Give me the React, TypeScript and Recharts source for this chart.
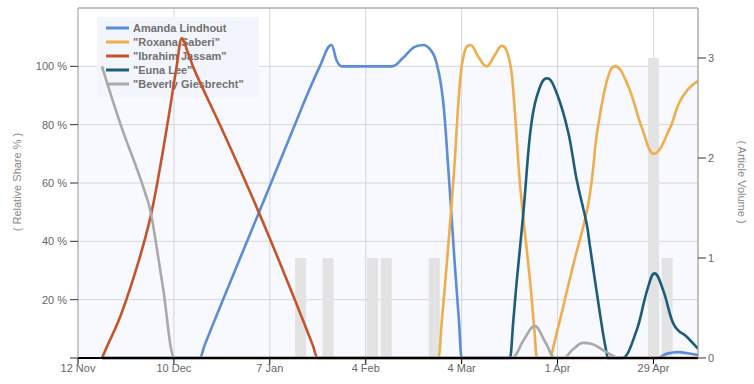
import React from 'react';
import { ComposedChart, Line, Bar, XAxis, YAxis, CartesianGrid, ReferenceArea, ReferenceLine } from 'recharts';

// x values are days counted from 12 Nov
const pts = (rows: number[][]) => rows.map(([d, v]) => ({ d, v }));

const TICK_DAYS = [0, 28, 56, 84, 112, 140, 168];
const TICK_LABELS = ['12 Nov', '10 Dec', '7 Jan', '4 Feb', '4 Mar', '1 Apr', '29 Apr'];
const SHARE_TICKS = [0, 20, 40, 60, 80, 100];
const VOLUME_TICKS = [0, 1, 2, 3];

const AMANDA = pts([
  [7, 0], [35.5, 0], [37, 4.5], [42, 19], [49, 39], [56, 59], [62.8, 78.5], [67, 90.5], [70.6, 100], [74, 107.3],
  [75.5, 102], [77, 100], [91.6, 100], [95, 103], [98, 106.5], [100.8, 107.3], [103, 105.5],
  [104.7, 101], [106.6, 88], [108.1, 65], [110, 32], [111.2, 13], [112, 0], [169, 0], [172, 1.5], [175.3, 2],
  [178, 1.6], [181, 1],
]);

const ROXANA = pts([
  [7, 0], [105.2, 0], [106.3, 14], [107.5, 30], [109.6, 61], [112, 100], [114.6, 107.3], [117, 103], [119.3, 100],
  [121.5, 103.5], [123.7, 107], [126.3, 100], [127.5, 85], [129, 60], [132, 26], [133.2, 10], [134, 0], [137.8, 0],
  [139, 5], [140.7, 13], [144.6, 32], [148.5, 50], [150, 61], [151.5, 77], [154.4, 95], [156.8, 100], [160.7, 93],
  [164.6, 79], [168, 70], [172.9, 79], [175.3, 87], [178, 92], [181, 95],
]);

const IBRAHIM = pts([
  [7, 0], [8.5, 4], [12.6, 15], [17.4, 32], [20.9, 47], [23.3, 61], [26.5, 83], [28.8, 100], [30.3, 109.6],
  [32, 105], [34, 98.7], [41.8, 79], [50, 57.5], [56, 41], [63.3, 20], [68.5, 4.5], [70, 0], [181, 0],
]);

const EUNA = pts([
  [7, 0], [126.1, 0], [127.1, 13], [128.1, 26.6], [130, 49.5], [132, 77], [133.9, 89.5], [136.9, 95.9], [139.8, 90.7],
  [143.2, 77], [145.6, 61], [148.5, 46], [149.5, 38], [152.4, 15], [153.8, 5], [154.9, 0], [158.8, 0], [163.1, 9.5],
  [166.1, 23], [168.3, 29], [170.9, 23], [173.8, 11.8], [177.8, 7.2], [181, 3.2],
]);

const BEVERLY = pts([
  [7, 100], [12.6, 79.5], [17, 65.5], [19.5, 57], [21.3, 49.5], [24.7, 25], [28.2, 0], [126.6, 0],
  [130.3, 6.5], [133.3, 11], [136.4, 5.5], [139.3, 0], [141.7, 0], [144.5, 3], [147.5, 5.2], [150, 4.8],
  [154, 2.2], [158.3, 0], [181, 0],
]);

const VOLUME = pts([[65, 1], [73, 1], [86, 1], [90, 1], [104, 1], [168, 3], [172, 1]]);

const SERIES = [
  { name: 'Amanda Lindhout', color: '#5b8dd6', data: AMANDA },
  { name: '"Roxana Saberi"', color: '#efad4c', data: ROXANA },
  { name: '"Ibrahim Jassam"', color: '#c4552b', data: IBRAHIM },
  { name: '"Euna Lee"', color: '#1d5c7b', data: EUNA },
  { name: '"Beverly Giesbrecht"', color: '#a9a9a9', data: BEVERLY },
];

// spline in the style of the original chart: control points at 1/2.5 of the gap,
// kept level where they would make a false extreme
const softSpline = (ctx: any) => {
  let p: number[][] = [];
  return {
    areaStart() {},
    areaEnd() {},
    lineStart() {
      p = [];
    },
    point(x: number, y: number) {
      p.push([+x, +y]);
    },
    lineEnd() {
      if (!p.length) return;
      const s = 1.5;
      const k = s + 1;
      const lc: number[][] = [];
      const rc: number[][] = [];
      p.forEach(([x, y], i) => {
        if (i === 0 || i === p.length - 1) {
          lc[i] = [x, y];
          rc[i] = [x, y];
          return;
        }
        const [lx, ly] = p[i - 1];
        const [nx, ny] = p[i + 1];
        const lcx = (s * x + lx) / k;
        let lcy = (s * y + ly) / k;
        const rcx = (s * x + nx) / k;
        let rcy = (s * y + ny) / k;
        let corr = 0;
        if (rcx !== lcx) corr = ((rcy - lcy) * (rcx - x)) / (rcx - lcx) + y - rcy;
        lcy += corr;
        rcy += corr;
        if (lcy > ly && lcy > y) {
          lcy = Math.max(ly, y);
          rcy = 2 * y - lcy;
        } else if (lcy < ly && lcy < y) {
          lcy = Math.min(ly, y);
          rcy = 2 * y - lcy;
        }
        if (rcy > ny && rcy > y) {
          rcy = Math.max(ny, y);
          lcy = 2 * y - rcy;
        } else if (rcy < ny && rcy < y) {
          rcy = Math.min(ny, y);
          lcy = 2 * y - rcy;
        }
        lc[i] = [lcx, lcy];
        rc[i] = [rcx, rcy];
      });
      ctx.moveTo(p[0][0], p[0][1]);
      for (let i = 1; i < p.length; i++) {
        ctx.bezierCurveTo(rc[i - 1][0], rc[i - 1][1], lc[i][0], lc[i][1], p[i][0], p[i][1]);
      }
    },
  };
};

// fixed 11px column centred on its day
const VolumeBar = (props: any) => {
  const { x, y, width, height, fill } = props;
  if (!height) return null;
  return <rect x={x + width / 2 - 5.5} y={y} width={11} height={height} fill={fill} />;
};

const LegendBox = () => (
  <g>
    <rect x={97} y={17} width={162} height={80} fill="#f3f5fc" />
    {SERIES.map((s, i) => (
      <g key={s.name}>
        <line x1={106} x2={129} y1={28 + i * 14} y2={28 + i * 14} stroke={s.color} strokeWidth={3} />
        <text x={133} y={32 + i * 14} fontSize={11} fontWeight="bold" fill="#707070">
          {s.name}
        </text>
      </g>
    ))}
  </g>
);

const tickText = { fill: '#666', fontSize: 11 };

export default function App() {
  return (
    <div
      style={{
        position: 'absolute',
        left: 0,
        top: 0,
        width: 754,
        height: 384,
        background: '#fff',
        fontFamily: '"Liberation Sans", Arial, sans-serif',
      }}
    >
      <ComposedChart width={754} height={384} data={VOLUME} margin={{ top: 8, right: 0, bottom: 0, left: 0 }}>
        <ReferenceArea yAxisId="left" y1={0} y2={100} fill="#f8f9fe" fillOpacity={1} stroke="none" zIndex={-150} />
        <CartesianGrid yAxisId="left" stroke="#d6d6d6" />
        <ReferenceLine yAxisId="left" y={120} stroke="#999" />
        <XAxis
          dataKey="d"
          type="number"
          domain={[0, 181]}
          allowDataOverflow
          ticks={TICK_DAYS}
          tickFormatter={(v) => TICK_LABELS[TICK_DAYS.indexOf(v)] ?? ''}
          height={26}
          tick={tickText}
          tickSize={6}
          tickMargin={0}
          tickLine={{ stroke: '#000' }}
          axisLine={{ stroke: '#000', strokeWidth: 2 }}
        />
        <YAxis
          yAxisId="left"
          width={78}
          domain={[0, 120]}
          ticks={SHARE_TICKS}
          tickFormatter={(v) => (v === 0 ? '' : `${v} %`)}
          tick={tickText}
          tickSize={8}
          tickMargin={3}
          tickLine={{ stroke: '#333' }}
          axisLine={{ stroke: '#aaa' }}
        />
        <YAxis
          yAxisId="right"
          orientation="right"
          width={56}
          domain={[0, 3.5]}
          ticks={VOLUME_TICKS}
          tick={tickText}
          tickSize={8}
          tickMargin={2}
          tickLine={{ stroke: '#333' }}
          axisLine={{ stroke: '#999' }}
        />
        <LegendBox />
        <text transform="translate(21,182) rotate(-90)" textAnchor="middle" fontSize={11} fill="#888">
          ( Relative Share % )
        </text>
        <text transform="translate(738,182) rotate(90)" textAnchor="middle" fontSize={11} fill="#888">
          ( Article Volume )
        </text>
        <Bar
          yAxisId="right"
          dataKey="v"
          fill="#e3e3e3"
          shape={<VolumeBar />}
          isAnimationActive={false}
        />
        {SERIES.map((s) => (
          <Line
            key={s.name}
            yAxisId="left"
            data={s.data}
            dataKey="v"
            name={s.name}
            type={softSpline as any}
            stroke={s.color}
            strokeWidth={2.6}
            dot={false}
            activeDot={false}
            isAnimationActive={false}
          />
        ))}
      </ComposedChart>
    </div>
  );
}
